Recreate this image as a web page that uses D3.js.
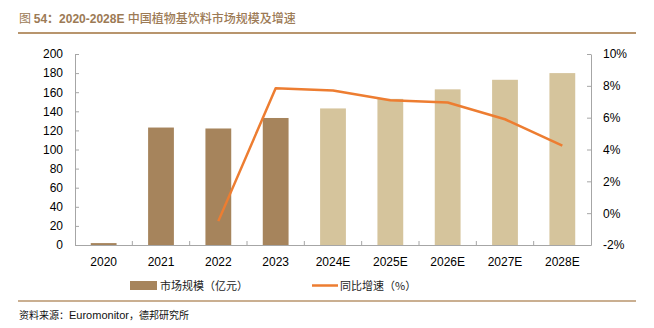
<!DOCTYPE html>
<html>
<head>
<meta charset="utf-8">
<script src="https://cdn.jsdelivr.net/npm/d3@7"></script>
<style>
  body { margin: 0; background: #fff; }
  svg { display: block; font-family: "Liberation Sans", Arial, sans-serif; }
</style>
</head>
<body>
<div id="container"></div>
<script>
// chart data
const years = ["2020", "2021", "2022", "2023", "2024E", "2025E", "2026E", "2027E", "2028E"];
const marketSize = [2, 123, 122, 133, 143, 153, 163, 173, 180];
const growth = [null, null, -0.5, 7.85, 7.7, 7.1, 6.95, 5.9, 4.25];
const leftTicks = [0, 20, 40, 60, 80, 100, 120, 140, 160, 180, 200];
const rightTicks = [-2, 0, 2, 4, 6, 8, 10];

const width = 654;
const height = 328;
const cjk = "'Noto Sans CJK SC', sans-serif";
const latin = "'Liberation Sans', Arial, sans-serif";
const axisColor = "#a6a6a6";

const svg = d3.select("#container").append("svg")
    .attr("width", width)
    .attr("height", height);

// title + rule
const title = svg.append("text")
    .attr("x", 19).attr("y", 23)
    .attr("fill", "#9c7a55")
    .attr("font-size", 12);
title.append("tspan").attr("font-family", cjk).text("图 ");
title.append("tspan").attr("font-family", latin).attr("font-weight", "bold").text("54");
title.append("tspan").attr("font-family", cjk).attr("font-weight", "bold").text("：");
title.append("tspan").attr("font-family", latin).attr("font-weight", "bold").text("2020-2028E ");
title.append("tspan").attr("font-family", cjk).attr("font-weight", 500).text("中国植物基饮料市场规模及增速");

svg.append("line")
    .attr("x1", 18).attr("x2", 636)
    .attr("y1", 33).attr("y2", 33)
    .attr("stroke", "#b8956d").attr("stroke-width", 2);

const plot = { left: 75, right: 591, top: 54, bottom: 245 };

const x = d3.scaleBand()
    .domain(years)
    .range([plot.left, plot.right])
    .paddingInner(0.55)
    .paddingOuter(0.275);

const yL = d3.scaleLinear().domain([0, 200]).range([plot.bottom, plot.top]);
const yR = d3.scaleLinear().domain([-2, 10]).range([plot.bottom, plot.top]);

// bars
svg.append("g")
    .selectAll("rect")
    .data(years)
    .join("rect")
    .attr("x", d => x(d))
    .attr("width", x.bandwidth())
    .attr("y", (d, i) => yL(marketSize[i]))
    .attr("height", (d, i) => yL(0) - yL(marketSize[i]))
    .attr("fill", d => d.endsWith("E") ? "#d5c49c" : "#a6845c");

// axes
const leftAxis = svg.append("g")
    .attr("transform", `translate(${plot.left},0)`)
    .call(d3.axisLeft(yL).tickValues(leftTicks).tickSizeInner(-4).tickSizeOuter(0).tickPadding(12));

const rightAxis = svg.append("g")
    .attr("transform", `translate(${plot.right},0)`)
    .call(d3.axisRight(yR).tickValues(rightTicks).tickSizeInner(-4).tickSizeOuter(0).tickPadding(12)
        .tickFormat(d => d + "%"));

const bottomAxis = svg.append("g")
    .attr("transform", `translate(0,${plot.bottom})`)
    .call(d3.axisBottom(x).tickSize(0).tickPadding(12));

// x ticks at category boundaries, pointing up
svg.append("g")
    .selectAll("line")
    .data(years.slice(1))
    .join("line")
    .attr("x1", d => x(d) - (x.step() - x.bandwidth()) / 2)
    .attr("x2", d => x(d) - (x.step() - x.bandwidth()) / 2)
    .attr("y1", plot.bottom).attr("y2", plot.bottom - 4)
    .attr("stroke", axisColor);

[leftAxis, rightAxis, bottomAxis].forEach(g => {
    g.select(".domain").attr("stroke", axisColor);
    g.selectAll(".tick line").attr("stroke", axisColor);
    g.selectAll("text").attr("font-size", 12).attr("fill", "#000")
        .attr("font-family", latin);
});

// growth line
const line = d3.line()
    .defined(d => d.v !== null)
    .x(d => x(d.year) + x.bandwidth() / 2)
    .y(d => yR(d.v));

svg.append("path")
    .datum(years.map((year, i) => ({ year, v: growth[i] })))
    .attr("fill", "none")
    .attr("stroke", "#ed7d31")
    .attr("stroke-width", 2.5)
    .attr("stroke-linejoin", "round")
    .attr("d", line);

// legend
const legend = svg.append("g").attr("font-family", cjk).attr("font-size", 11).attr("fill", "#222");
legend.append("rect")
    .attr("x", 130).attr("y", 281).attr("width", 27).attr("height", 9)
    .attr("fill", "#a6845c");
legend.append("text").attr("x", 160).attr("y", 290).text("市场规模（亿元）");
legend.append("line")
    .attr("x1", 312).attr("x2", 338).attr("y1", 285.5).attr("y2", 285.5)
    .attr("stroke", "#ed7d31").attr("stroke-width", 2.5);
legend.append("text").attr("x", 340).attr("y", 290).text("同比增速（%）");

// footer rule + source
svg.append("line")
    .attr("x1", 18).attr("x2", 636)
    .attr("y1", 301).attr("y2", 301)
    .attr("stroke", "#b8956d").attr("stroke-width", 1.5);

const source = svg.append("text")
    .attr("x", 19).attr("y", 319)
    .attr("font-size", 10)
    .attr("fill", "#111");
source.append("tspan").attr("font-family", cjk).text("资料来源：");
source.append("tspan").attr("font-family", latin).attr("font-size", 11).text("Euromonitor");
source.append("tspan").attr("font-family", cjk).text("，德邦研究所");
</script>
</body>
</html>
